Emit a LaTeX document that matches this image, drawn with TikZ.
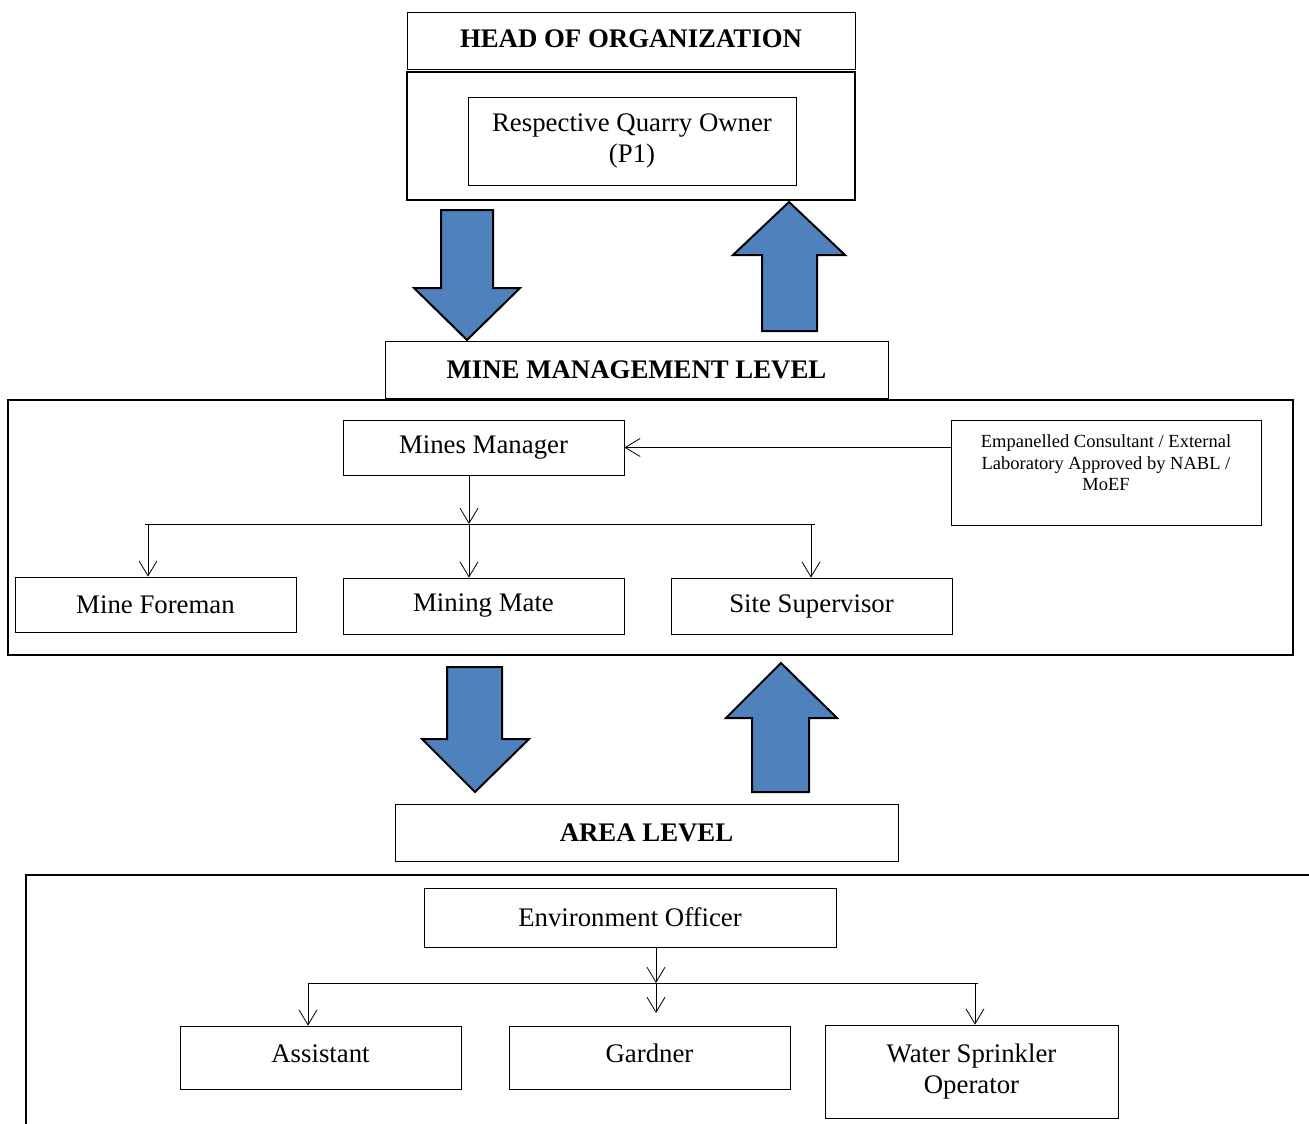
\documentclass[tikz,border=0pt]{standalone}
\usepackage{fontspec}
\setmainfont{Liberation Serif}
\usetikzlibrary{arrows.meta}
\definecolor{blockblue}{RGB}{79,129,189}
\begin{document}
\begin{tikzpicture}[x=1pt,y=-1pt,
  box/.style={draw, line width=0.8pt, rectangle, inner sep=0pt, align=center,
    font=\fontsize{26.8}{30.5}\selectfont},
  headbox/.style={box, font=\fontsize{26.8}{30.5}\selectfont\bfseries},
  frame/.style={draw, line width=2.3pt, rectangle, inner sep=0pt},
  arr/.style={line width=0.8pt, -{Straight Barb[length=15pt,width=18pt]}},
  conn/.style={line width=0.8pt},
  blockarrow/.style={fill=blockblue, draw=black, line width=2pt, line join=miter}]
\useasboundingbox (0,0) rectangle (1309,1124);

% ---------- head of organization ----------
\node[headbox, minimum width=448pt, minimum height=57pt, text depth=4pt] (head) at (631,40.5) {HEAD OF ORGANIZATION};
\node[frame, minimum width=448pt, minimum height=128pt] (ownerframe) at (631,136) {};
\node[box, minimum width=328pt, minimum height=88pt] (owner) at (632,141) {Respective Quarry Owner\\(P1)};

% block arrows (top)
\draw[blockarrow] (441,210) -- (493,210) -- (493,288) -- (520,288) -- (467,340) -- (414,288) -- (441,288) -- cycle;
\draw[blockarrow] (789,202) -- (845,255) -- (817,255) -- (817,331) -- (762,331) -- (762,255) -- (733,255) -- cycle;

% ---------- mine management level ----------
\node[headbox, minimum width=503pt, minimum height=57pt] (mml) at (636.5,369.5) {MINE MANAGEMENT LEVEL};
\node[frame, minimum width=1285pt, minimum height=255pt] (mmframe) at (650.5,527.5) {};

\node[box, minimum width=281pt, minimum height=55pt] (mm) at (483.5,447.5) {Mines Manager};
\node[box, minimum width=310pt, minimum height=105pt] (cons) at (1106,472.5) {};
\node[align=center, inner sep=0pt, anchor=north, font=\fontsize{18.5}{21.5}\selectfont] (constext) at (1106,434.5)
  {Empanelled Consultant / External\\Laboratory Approved by NABL /\\MoEF};
\node[box, minimum width=281pt, minimum height=55pt] (mf) at (155.5,604.5) {Mine Foreman};
\node[box, minimum width=281pt, minimum height=56pt] (mate) at (483.5,606) {Mining Mate};
\node[box, minimum width=281pt, minimum height=56pt] (ss) at (811.5,606) {Site Supervisor};

\draw[arr] (cons.west |- mm.east) -- (mm.east);
\coordinate (b1) at (469,524);
\coordinate (bl) at (145,524);
\coordinate (br) at (815,524);
\coordinate (d1) at (148,524);
\coordinate (d3) at (811,524);
\draw[arr] (b1 |- mm.south) -- (b1);
\draw[conn] (bl) -- (br);
\draw[arr] (d1) -- (d1 |- mf.north);
\draw[arr] (b1) -- (b1 |- mate.north);
\draw[arr] (d3) -- (d3 |- ss.north);

% block arrows (middle)
\draw[blockarrow] (447,667) -- (502,667) -- (502,739) -- (529,739) -- (475,792) -- (422,739) -- (447,739) -- cycle;
\draw[blockarrow] (781,663) -- (837,718) -- (809,718) -- (809,792) -- (752,792) -- (752,718) -- (726,718) -- cycle;

% ---------- area level ----------
\node[headbox, minimum width=503pt, minimum height=57pt] (area) at (646.5,832.5) {AREA LEVEL};
\draw[line width=2.3pt] (1309,875) -- (26,875) -- (26,1124);

\node[box, minimum width=412pt, minimum height=59pt] (eo) at (630,917.5) {Environment Officer};
\node[box, minimum width=281pt, minimum height=63pt, text depth=8pt] (asst) at (320.5,1057.5) {Assistant};
\node[box, minimum width=281pt, minimum height=63pt, text depth=8pt] (gard) at (649.5,1057.5) {Gardner};
\node[box, minimum width=293pt, minimum height=93pt] (wso) at (971.5,1071.5) {Water Sprinkler\\Operator};

\coordinate (c1) at (656,983);
\coordinate (g1) at (656,1013);
\coordinate (al) at (308,983);
\coordinate (ar) at (978,983);
\coordinate (a1) at (308,983);
\coordinate (w1) at (975,983);
\draw[arr] (c1 |- eo.south) -- (c1);
\draw[conn] (al) -- (ar);
\draw[arr] (c1) -- (g1);
\draw[arr] (a1) -- (a1 |- asst.north);
\draw[arr] (w1) -- (w1 |- wso.north);
\end{tikzpicture}
\end{document}
